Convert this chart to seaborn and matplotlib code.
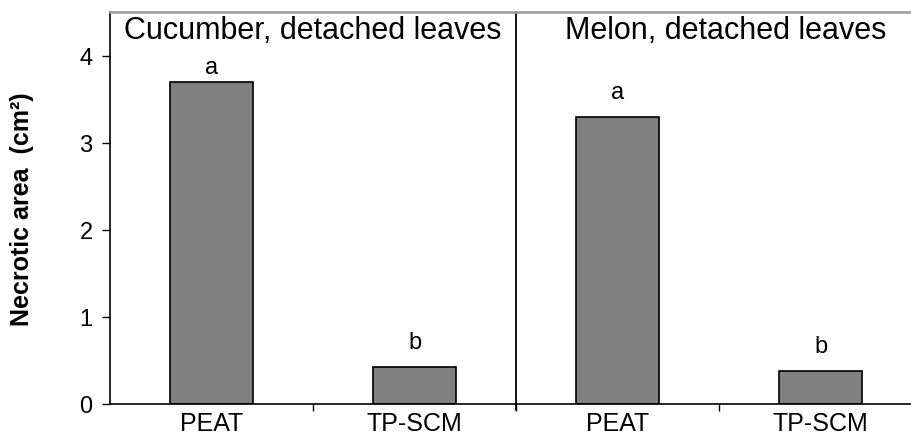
import matplotlib
matplotlib.use("Agg")
import matplotlib.pyplot as plt
import seaborn as sns
import pandas as pd
from matplotlib.ticker import FixedLocator

# Necrotic area on detached leaves, by crop and growing substrate
crops = ["Cucumber", "Cucumber", "Melon", "Melon"]
substrates = ["PEAT", "TP-SCM", "PEAT", "TP-SCM"]
necrotic_area = [3.70, 0.43, 3.30, 0.38]
letters = ["a", "b", "a", "b"]
panel_titles = ["Cucumber, detached leaves", "Melon, detached leaves"]
y_ticks = [0, 1, 2, 3, 4]

df = pd.DataFrame({
    "crop": crops,
    "substrate": substrates,
    "area": necrotic_area,
})
df["group"] = df["crop"] + " / " + df["substrate"]
order = list(df["group"])

sns.set_style("white")
plt.rcParams["font.family"] = ["Liberation Sans", "DejaVu Sans"]
plt.rcParams["text.color"] = "black"
plt.rcParams["axes.labelcolor"] = "black"
plt.rcParams["xtick.color"] = "black"
plt.rcParams["ytick.color"] = "black"

fig = plt.figure(figsize=(9.11, 4.39), dpi=100)
ax = fig.add_axes([110 / 911, 34 / 439, 812 / 911, 392 / 439])

sns.barplot(data=df, x="group", y="area", order=order, color="#808080",
            saturation=1, width=0.41, edgecolor="black", linewidth=1.2,
            errorbar=None, ax=ax)

ax.set_xlim(-0.5, len(order) - 0.5)
ax.set_ylim(0, 4.5)

# category labels centred under bars, ticks at the group boundaries
ax.set_xticks(range(len(order)))
ax.set_xticklabels(substrates, fontsize=18)
ax.xaxis.set_minor_locator(FixedLocator([0.5, 1.5, 2.5]))
ax.tick_params(axis="x", which="major", length=0, pad=5)
ax.tick_params(axis="x", which="minor", length=5, width=1, color="black",
               direction="out", bottom=True)

ax.set_yticks(y_ticks)
ax.set_yticklabels([str(t) for t in y_ticks], fontsize=17)
ax.tick_params(axis="y", which="major", length=5.5, width=1, color="black",
               direction="out", left=True, pad=7)

ax.set_xlabel("")
ax.set_ylabel("Necrotic area  (cm²)", fontsize=18, fontweight="bold")
ax.yaxis.set_label_coords(-76 / 812, 0.5)

for side in ["left", "bottom"]:
    ax.spines[side].set_color("black")
    ax.spines[side].set_linewidth(1.2)
ax.spines["top"].set_color("#9a9a9a")
ax.spines["top"].set_linewidth(1.8)
ax.spines["right"].set_visible(False)

# divider between the two crops
ax.axvline(1.5, color="black", lw=1.3, ymin=-0.015, ymax=1, clip_on=False)

# panel titles
ax.text(-0.5 + 14 / 203, 4.2, panel_titles[0], fontsize=22, ha="left",
        va="baseline")
ax.text(-0.5 + 455 / 203, 4.2, panel_titles[1], fontsize=22, ha="left",
        va="baseline")

# significance letters above bars
offsets = [6, 13.5, 13, 13.5]
for i, (val, lab, off) in enumerate(zip(necrotic_area, letters, offsets)):
    ax.annotate(lab, (i, val), xytext=(0, off), textcoords="offset points",
                ha="center", va="baseline", fontsize=17, color="black")

fig.savefig("out.png", dpi=100)
